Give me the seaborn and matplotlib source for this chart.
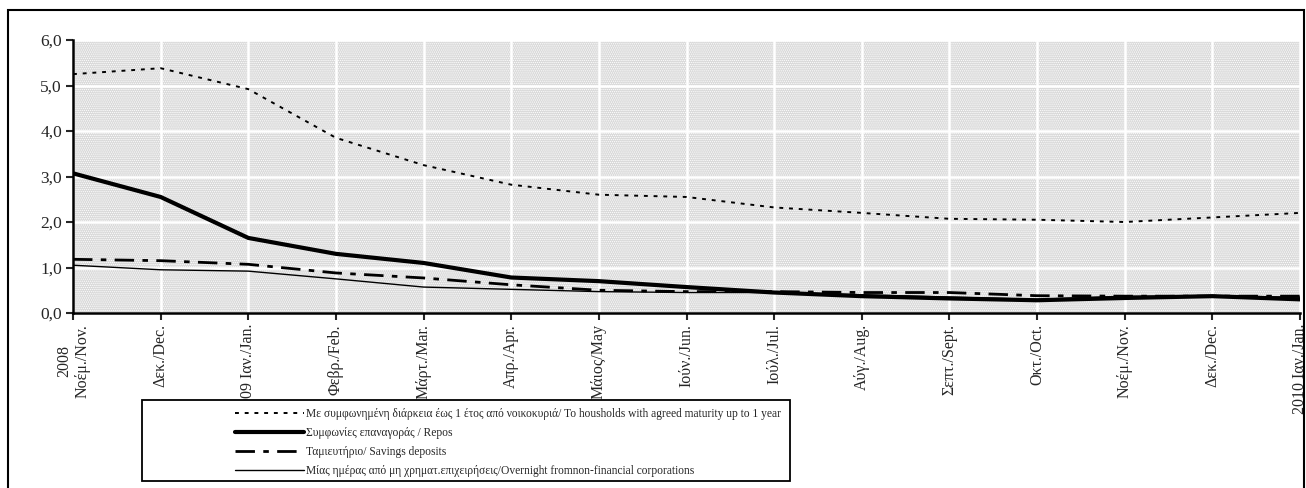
import matplotlib
matplotlib.use("Agg")
import numpy as np
import pandas as pd
import matplotlib.pyplot as plt
import matplotlib.ticker as ticker
from matplotlib.patches import Rectangle
from matplotlib.lines import Line2D
import seaborn as sns

# 1. Data (monthly, Nov 2008 - Jan 2010)
months = [
    "2008\nΝοέμ./Nov.", "Δεκ./Dec.", "2009 Ιαν./Jan.", "Φεβρ./Feb.", "Μάρτ./Mar.",
    "Απρ./Apr.", "Μάιος/May", "Ιούν./Jun.", "Ιούλ./Jul.", "Αύγ./Aug.",
    "Σεπτ./Sept.", "Οκτ./Oct.", "Νοέμ./Nov.", "Δεκ./Dec.", "2010 Ιαν./Jan.",
]
households_1y = [5.25, 5.38, 4.92, 3.85, 3.25, 2.82, 2.60, 2.55, 2.32, 2.20, 2.07, 2.05, 2.00, 2.10, 2.20]
repos = [3.07, 2.55, 1.65, 1.30, 1.10, 0.78, 0.70, 0.57, 0.45, 0.37, 0.32, 0.28, 0.33, 0.37, 0.30]
savings = [1.18, 1.15, 1.07, 0.88, 0.77, 0.62, 0.50, 0.47, 0.47, 0.45, 0.45, 0.38, 0.37, 0.37, 0.37]
overnight = [1.05, 0.95, 0.92, 0.75, 0.57, 0.52, 0.47, 0.45, 0.45, 0.40, 0.35, 0.30, 0.37, 0.37, 0.35]

labels = [
    "Με συμφωνημένη διάρκεια έως 1 έτος από νοικοκυριά/ To housholds with agreed maturity up to 1 year",
    "Συμφωνίες επαναγοράς / Repos",
    "Ταμιευτήριο/ Savings deposits",
    "Μίας ημέρας από μη χρηματ.επιχειρήσεις/Overnight fromnon-financial corporations",
]

# 2. Styles per series
styles = {
    labels[0]: dict(lw=1.4, ls=(0, (2, 3))),
    labels[1]: dict(lw=3.0, ls="-"),
    labels[2]: dict(lw=2.0, ls=(0, (7, 3, 2, 3))),
    labels[3]: dict(lw=1.0, ls="-"),
}

df = pd.DataFrame({
    "pos": list(range(len(months))) * 4,
    "value": households_1y + repos + savings + overnight,
    "series": np.repeat(labels, len(months)),
})

sns.set_style("white")
plt.rcParams["font.family"] = ["Liberation Serif", "DejaVu Serif"]
plt.rcParams["hatch.color"] = "#707070"
plt.rcParams["hatch.linewidth"] = 0.6

fig = plt.figure(figsize=(13.06, 4.88), dpi=100)
ax = fig.add_axes([73 / 1306, 1 - 313 / 488, (1300 - 73) / 1306, (313 - 40) / 488])

# dotted grey background
ax.set_facecolor("#d9d9d9")
ax.add_patch(Rectangle((0, 0), 1, 1, transform=ax.transAxes, facecolor="none",
                       hatch="........", lw=0, zorder=0))

for name in labels:
    sub = df[df["series"] == name]
    sns.lineplot(data=sub, x="pos", y="value", ax=ax, color="black",
                 linewidth=styles[name]["lw"], linestyle=styles[name]["ls"],
                 zorder=3, legend=False)

# 3. Axes formatting
ax.set_xlim(0, len(months) - 1)
ax.set_ylim(0, 6)
ax.set_xticks(range(len(months)))
ax.set_xticklabels(months, rotation=90, fontsize=11.5)
ax.set_yticks(np.arange(0, 7, 1))
ax.yaxis.set_major_formatter(ticker.FuncFormatter(lambda v, p: f"{v:.1f}".replace(".", ",")))
ax.tick_params(axis="y", labelsize=12.5, length=5, width=1.5, direction="out", left=True, pad=3)
ax.tick_params(axis="x", length=5, width=1.5, direction="out", bottom=True, pad=3)
ax.set_xlabel("")
ax.set_ylabel("")

ax.grid(True, color="white", linewidth=1.8, zorder=1)
ax.set_axisbelow(True)
for side in ["top", "right"]:
    ax.spines[side].set_visible(False)
for side in ["left", "bottom"]:
    ax.spines[side].set_color("black")
    ax.spines[side].set_linewidth(1.8)

# 4. Outer frame and legend box
fig.patches.append(Rectangle((8 / 1306, -0.05), (1304 - 8) / 1306, 1.05 - 10 / 488,
                             transform=fig.transFigure, fill=False, edgecolor="black",
                             lw=1.5, zorder=4))
fig.patches.append(Rectangle((142 / 1306, 1 - 481 / 488), (790 - 142) / 1306, (481 - 400) / 488,
                             transform=fig.transFigure, facecolor="white", edgecolor="black",
                             lw=1.3, zorder=5))

handles = [Line2D([], [], color="black", linewidth=styles[n]["lw"], linestyle=styles[n]["ls"])
           for n in labels]
leg = fig.legend(handles, labels, loc="upper left", bbox_to_anchor=(235 / 1306, 1 - 408 / 488),
                 frameon=False, fontsize=8.3, handlelength=6.0, handletextpad=0.2,
                 labelspacing=0.6, borderpad=0, borderaxespad=0)
leg.set_zorder(6)

fig.savefig("out.png", dpi=100)
